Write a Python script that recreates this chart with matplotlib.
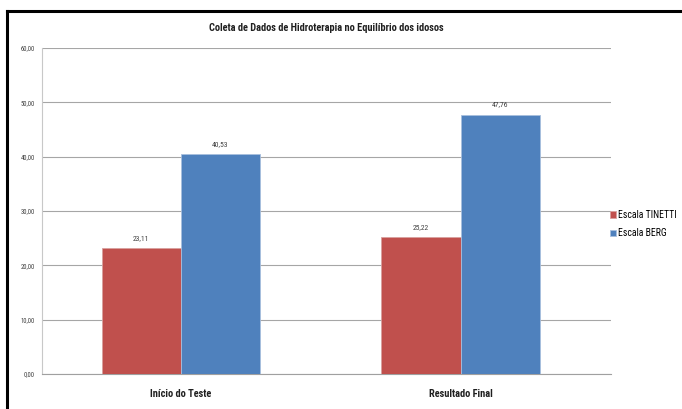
import matplotlib
matplotlib.use("Agg")
import matplotlib.pyplot as plt
from matplotlib.lines import Line2D
from matplotlib import font_manager
import numpy as np

categories = ["Início do Teste", "Resultado Final"]
tinetti = [23.11, 25.22]
berg = [40.53, 47.76]
series_names = ["Escala TINETTI", "Escala BERG"]
yticks = [0, 10, 20, 30, 40, 50, 60]

names = {f.name for f in font_manager.fontManager.ttflist}
narrow = [n for n in ['Liberation Sans Narrow', 'DejaVu Sans Condensed', 'Roboto Condensed', 'Open Sans Condensed'] if n in names]
plt.rcParams['font.family'] = narrow + ['Liberation Sans', 'DejaVu Sans']

fig = plt.figure(figsize=(6.82, 4.09), dpi=100)
ax = fig.add_axes([0.0616, 0.0856, 0.835, 0.797])

x = np.arange(len(categories))
w = 0.283
b1 = ax.bar(x - w/2, tinetti, w, color="#C0504D", edgecolor="#d9a09e", linewidth=0.6, label=series_names[0], zorder=3)
b2 = ax.bar(x + w/2, berg, w, color="#4F81BD", edgecolor="#a8bfdd", linewidth=0.6, label=series_names[1], zorder=3)

for bars, vals in ((b1, tinetti), (b2, berg)):
    for r, v in zip(bars, vals):
        ax.annotate(f"{v:.2f}".replace(".", ","), (r.get_x() + r.get_width()/2, v),
                    xytext=(0, 5), textcoords="offset points", ha="center", va="bottom",
                    fontsize=5.5, color="#404040")

ax.set_xlim(-0.496, 1.539)
ax.set_ylim(0, 60)
ax.set_yticks(yticks)
ax.set_yticklabels([f"{t:.2f}".replace(".", ",") for t in yticks], fontsize=4.8, color="#404040")
ax.set_xticks(x)
ax.set_xticklabels(categories, fontsize=7.5, fontweight="bold", color="#202020")
ax.tick_params(axis="y", length=0, pad=5)
ax.tick_params(axis="x", length=0, pad=11)
ax.yaxis.grid(True, color="#a6a6a6", linewidth=0.8, zorder=0)
ax.set_axisbelow(True)
for s in ("top", "right"):
    ax.spines[s].set_visible(False)
ax.spines["left"].set_color("#c8c8c8")
ax.spines["bottom"].set_color("#a0a0a0")

ax.set_title("Coleta de Dados de Hidroterapia no Equilíbrio dos idosos", fontsize=7.5,
             fontweight="bold", color="#202020", pad=12)

ax.legend(loc="center left", bbox_to_anchor=(0.99, 0.46), frameon=False, fontsize=7,
          handlelength=0.6, handleheight=0.7, handletextpad=0.3, labelspacing=0.9,
          borderpad=0.2, borderaxespad=0.2)

fig.add_artist(Line2D([0.0103, 1.0], [0.973, 0.973], transform=fig.transFigure, color="black", linewidth=2.2))
fig.add_artist(Line2D([0.0103, 0.0103], [0.0, 0.973], transform=fig.transFigure, color="black", linewidth=2.2))

fig.savefig("out.png", dpi=100)
